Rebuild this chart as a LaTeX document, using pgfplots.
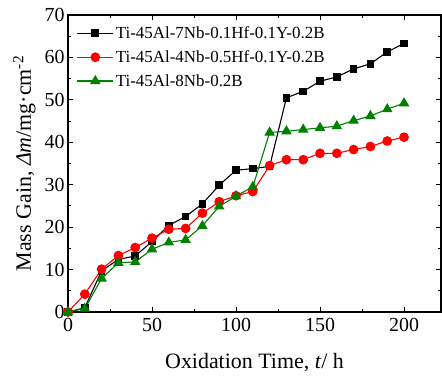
\documentclass[border=0pt]{standalone}
\usepackage{pgfplots}
\pgfplotsset{compat=1.18}
\usepackage{fontspec}
\setmainfont{Liberation Serif}
\definecolor{dgreen}{RGB}{0,128,0}
\begin{document}
\begin{tikzpicture}
\begin{axis}[
  scale only axis,
  width=373bp, height=297bp,
  xmin=0, xmax=222, ymin=0, ymax=70,
  xtick={0,50,100,150,200}, minor xtick={25,75,125,175,225},
  ytick={0,10,20,30,40,50,60,70}, minor ytick={5,15,25,35,45,55,65},
  tick align=inside,
  major tick length=5bp, minor tick length=3bp,
  axis line style={line width=1.3bp},
  every tick/.style={line width=1bp, black},
  /pgf/number format/assume math mode=true,
  tick label style={font=\fontsize{20}{24}\selectfont},
  xticklabel style={yshift=-3bp},
  label style={font=\fontsize{22}{26}\selectfont},
  xlabel={Oxidation Time, \textit{t}/ h},
  ylabel={Mass Gain, \textit{Δm}/mg·cm\textsuperscript{-2}},
  xlabel style={yshift=-14bp},
  ylabel style={yshift=2bp},
  legend style={draw=none, fill=none, at={(0.015,0.975)}, anchor=north west,
    font=\fontsize{17}{20}\selectfont, row sep=6.5bp},
  legend cell align=left,
  legend image code/.code={\draw[#1] (0bp,0bp) -- (36bp,0bp); \draw[#1, only marks] plot coordinates {(18bp,0bp)};},
  clip=false,
]
\addplot[black, line width=1.1bp, mark=square*, mark size=3.3bp] coordinates {
(0,0) (10,1.0) (20,9.7) (30,12.4) (40,13.2) (50,16.6) (60,20.4) (70,22.5) (80,25.5)
(90,29.9) (100,33.4) (110,33.8) (120,34.3) (130,50.5) (140,52.0) (150,54.4)
(160,55.4) (170,57.3) (180,58.5) (190,61.3) (200,63.3)};
\addlegendentry{Ti-45Al-7Nb-0.1Hf-0.1Y-0.2B}
\addplot[red, line width=1.1bp, mark=*, mark size=4.3bp] coordinates {
(0,0) (10,4.2) (20,10.1) (30,13.3) (40,15.2) (50,17.4) (60,19.5) (70,19.7) (80,23.3)
(90,26.0) (100,27.4) (110,28.4) (120,34.5) (130,35.9) (140,35.9) (150,37.4)
(160,37.4) (170,38.3) (180,39.0) (190,40.3) (200,41.2)};
\addlegendentry{Ti-45Al-4Nb-0.5Hf-0.1Y-0.2B}
\addplot[dgreen, line width=1.1bp, mark=triangle*, mark size=5bp] coordinates {
(0,0) (10,0.8) (20,7.9) (30,11.6) (40,11.8) (50,14.8) (60,16.4) (70,17.0) (80,20.3)
(90,24.9) (100,27.3) (110,29.5) (120,42.3) (130,42.6) (140,43.0) (150,43.4)
(160,43.8) (170,45.1) (180,46.2) (190,47.8) (200,49.2)};
\addlegendentry{Ti-45Al-8Nb-0.2B}
\end{axis}
\path (current axis.south west) ++(-68bp,-64bp) rectangle ++(442bp,376bp);
\end{tikzpicture}
\end{document}
